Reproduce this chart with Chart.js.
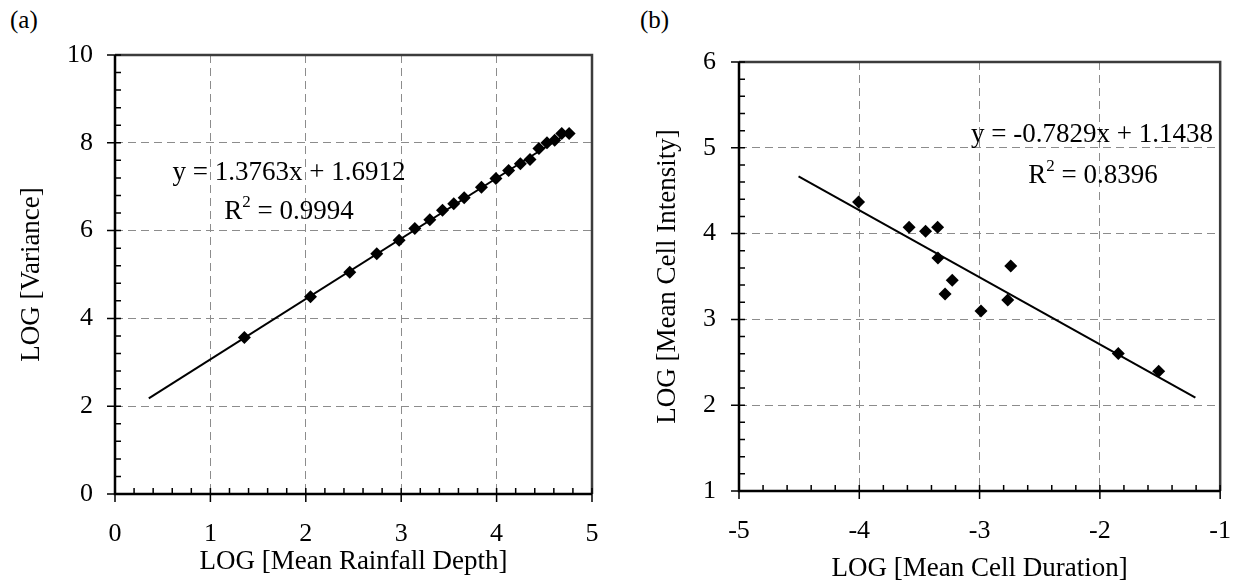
<!DOCTYPE html>
<html>
<head>
<meta charset="utf-8">
<script src="https://cdn.jsdelivr.net/npm/chart.js@4.4.0/dist/chart.umd.min.js"></script>
<style>
  body { margin: 0; background: #fff; }
  #wrap { position: relative; width: 1256px; height: 585px; overflow: hidden; }
  canvas { position: absolute; top: 0; }
  .tag { position: absolute; font: 25px "Liberation Serif", "Times New Roman", serif; color: #000; line-height: 1; }
</style>
</head>
<body>
<div id="wrap">
  <div class="tag" style="left:10px;top:7px">(a)</div>
  <div class="tag" style="left:640px;top:7px">(b)</div>
  <canvas id="chartA" width="628" height="585" style="left:0"></canvas>
  <canvas id="chartB" width="628" height="585" style="left:628px"></canvas>
</div>
<script>
// Panel (a): LOG mean rainfall depth vs LOG variance
const depthX = [1.356, 2.049, 2.461, 2.744, 2.978, 3.143, 3.300, 3.433, 3.551, 3.660,
                3.841, 3.993, 4.126, 4.249, 4.350, 4.444, 4.528, 4.609, 4.683, 4.760];
const varianceY = [3.566, 4.495, 5.051, 5.470, 5.783, 6.050, 6.248, 6.461, 6.613, 6.750,
                   6.987, 7.185, 7.368, 7.520, 7.619, 7.871, 8.000, 8.060, 8.210, 8.210];
const depthFitX = [0.354, 4.76];
const depthFitY = [2.178, 8.24];
const depthTicks = [0, 1, 2, 3, 4, 5];
const varianceTicks = [0, 2, 4, 6, 8, 10];

// Panel (b): LOG mean cell duration vs LOG mean cell intensity
const durationX = [-4.006, -3.586, -3.449, -3.349, -3.346, -3.227, -3.287, -2.988, -2.766, -2.741, -1.847, -1.511];
const intensityY = [4.369, 4.074, 4.027, 4.074, 3.716, 3.456, 3.297, 3.097, 3.225, 3.623, 2.602, 2.396];
const durationFitX = [-4.505, -1.206];
const durationFitY = [4.668, 2.088];
const durationTicks = [-5, -4, -3, -2, -1];
const intensityTicks = [1, 2, 3, 4, 5, 6];

const serif = '"Liberation Serif", "Times New Roman", serif';

// list of minor tick values between min and max
function steps(min, max, step) {
  const out = [];
  for (let v = min; v <= max + 1e-9; v += step) out.push(+v.toFixed(4));
  return out;
}

// frame (top/right border), axis lines and tick marks
const frameTicks = {
  id: 'frameTicks',
  afterDraw(chart, args, o) {
    const { ctx, chartArea: a, scales: { x, y } } = chart;
    ctx.save();
    ctx.lineCap = 'butt';
    ctx.strokeStyle = '#3c3c3c';
    ctx.lineWidth = 2.5;
    ctx.beginPath();
    ctx.moveTo(a.left, a.top);
    ctx.lineTo(a.right, a.top);
    ctx.lineTo(a.right, a.bottom);
    ctx.stroke();

    ctx.strokeStyle = '#000';
    ctx.lineWidth = 1.5;
    ctx.beginPath();
    o.xMinor.forEach(v => {
      const px = x.getPixelForValue(v);
      ctx.moveTo(px, a.bottom);
      ctx.lineTo(px, a.bottom - 6);
    });
    x.ticks.forEach(t => {
      const px = x.getPixelForValue(t.value);
      ctx.moveTo(px, a.bottom - 6);
      ctx.lineTo(px, a.bottom + 8);
    });
    o.yMinor.forEach(v => {
      const py = y.getPixelForValue(v);
      ctx.moveTo(a.left, py);
      ctx.lineTo(a.left + 6, py);
    });
    y.ticks.forEach(t => {
      const py = y.getPixelForValue(t.value);
      ctx.moveTo(a.left - 8, py);
      ctx.lineTo(a.left + 6, py);
    });
    ctx.stroke();

    ctx.lineWidth = 2.5;
    ctx.beginPath();
    ctx.moveTo(a.left, a.top);
    ctx.lineTo(a.left, a.bottom);
    ctx.lineTo(a.right, a.bottom);
    ctx.stroke();
    ctx.restore();
  }
};

// regression equation and R² text
const trendText = {
  id: 'trendText',
  afterDatasetsDraw(chart, args, o) {
    const { ctx, scales: { x, y } } = chart;
    const big = '27px ' + serif, small = '17px ' + serif;
    ctx.save();
    ctx.fillStyle = '#000';
    ctx.textBaseline = 'alphabetic';
    ctx.font = big;
    ctx.textAlign = 'center';
    ctx.fillText(o.eq, x.getPixelForValue(o.eqAt[0]), y.getPixelForValue(o.eqAt[1]));

    const rest = ' = ' + o.r2;
    const wR = ctx.measureText('R').width;
    const wRest = ctx.measureText(rest).width;
    ctx.font = small;
    const w2 = ctx.measureText('2').width;
    let cx = x.getPixelForValue(o.r2At[0]) - (wR + w2 + wRest) / 2;
    const by = y.getPixelForValue(o.r2At[1]);
    ctx.textAlign = 'left';
    ctx.font = big;
    ctx.fillText('R', cx, by);
    cx += wR;
    ctx.font = small;
    ctx.fillText('2', cx, by - 12);
    cx += w2;
    ctx.font = big;
    ctx.fillText(rest, cx, by);
    ctx.restore();
  }
};

function makePanel(id, p) {
  const pts = p.xs.map((v, i) => ({ x: v, y: p.ys[i] }));
  const fit = p.fitX.map((v, i) => ({ x: v, y: p.fitY[i] }));
  const tickFont = { family: serif, size: 26 };
  const titleFont = { family: serif, size: 27, lineHeight: 1.2 };
  const grid = { color: '#8c8c8c', lineWidth: 1, drawTicks: false };
  const border = { display: false, dash: [8, 5] };

  return new Chart(document.getElementById(id), {
    type: 'scatter',
    data: {
      datasets: [
        { data: fit, showLine: true, borderColor: '#000', borderWidth: 2, pointRadius: 0, pointHoverRadius: 0 },
        { data: pts, pointStyle: 'rectRot', pointRadius: 6.5, pointHoverRadius: 6.5,
          backgroundColor: '#000', borderColor: '#000', borderWidth: 0 }
      ]
    },
    options: {
      responsive: false,
      animation: false,
      events: [],
      layout: { padding: p.pad },
      plugins: {
        legend: { display: false },
        tooltip: { enabled: false },
        frameTicks: { xMinor: p.xMinor, yMinor: p.yMinor },
        trendText: p.text
      },
      scales: {
        x: {
          type: 'linear',
          min: p.xTicks[0],
          max: p.xTicks[p.xTicks.length - 1],
          ticks: { stepSize: p.xTicks[1] - p.xTicks[0], color: '#000', font: tickFont, padding: p.xLabelPad, maxRotation: 0 },
          grid: grid,
          border: border,
          title: { display: true, text: p.xTitle, color: '#000', font: titleFont, padding: { top: 0, bottom: p.xTitlePad } },
          afterFit: s => { s.height = p.xHeight; }
        },
        y: {
          type: 'linear',
          min: p.yTicks[0],
          max: p.yTicks[p.yTicks.length - 1],
          ticks: { stepSize: p.yTicks[1] - p.yTicks[0], color: '#000', font: tickFont, padding: p.yLabelPad },
          grid: grid,
          border: border,
          title: { display: true, text: p.yTitle, color: '#000', font: titleFont, padding: { top: p.yTitlePad, bottom: 0 } },
          afterFit: s => { s.width = p.yWidth; }
        }
      }
    },
    plugins: [frameTicks, trendText]
  });
}

makePanel('chartA', {
  xs: depthX, ys: varianceY, fitX: depthFitX, fitY: depthFitY,
  xTicks: depthTicks, yTicks: varianceTicks,
  xMinor: steps(0, 5, 0.2), yMinor: steps(0, 10, 0.4),
  xTitle: 'LOG [Mean Rainfall Depth]', yTitle: 'LOG [Variance]',
  pad: { top: 55, right: 36, bottom: 0, left: 0 },
  xHeight: 91, yWidth: 115, xTitlePad: 7, yTitlePad: 16, xLabelPad: 25, yLabelPad: 22,
  text: { eq: 'y = 1.3763x + 1.6912', r2: '0.9994', eqAt: [1.824, 7.164], r2At: [1.824, 6.264] }
});

makePanel('chartB', {
  xs: durationX, ys: intensityY, fitX: durationFitX, fitY: durationFitY,
  xTicks: durationTicks, yTicks: intensityTicks,
  xMinor: steps(-5, -1, 0.2), yMinor: steps(1, 6, 0.2),
  xTitle: 'LOG [Mean Cell Duration]', yTitle: 'LOG [Mean Cell Intensity]',
  pad: { top: 62, right: 25, bottom: 0, left: 0 },
  xHeight: 94, yWidth: 111, xTitlePad: 0, yTitlePad: 24, xLabelPad: 25, yLabelPad: 23,
  text: { eq: 'y = -0.7829x + 1.1438', r2: '0.8396', eqAt: [-2.065, 5.068], r2At: [-2.057, 4.59] }
});
</script>
</body>
</html>
